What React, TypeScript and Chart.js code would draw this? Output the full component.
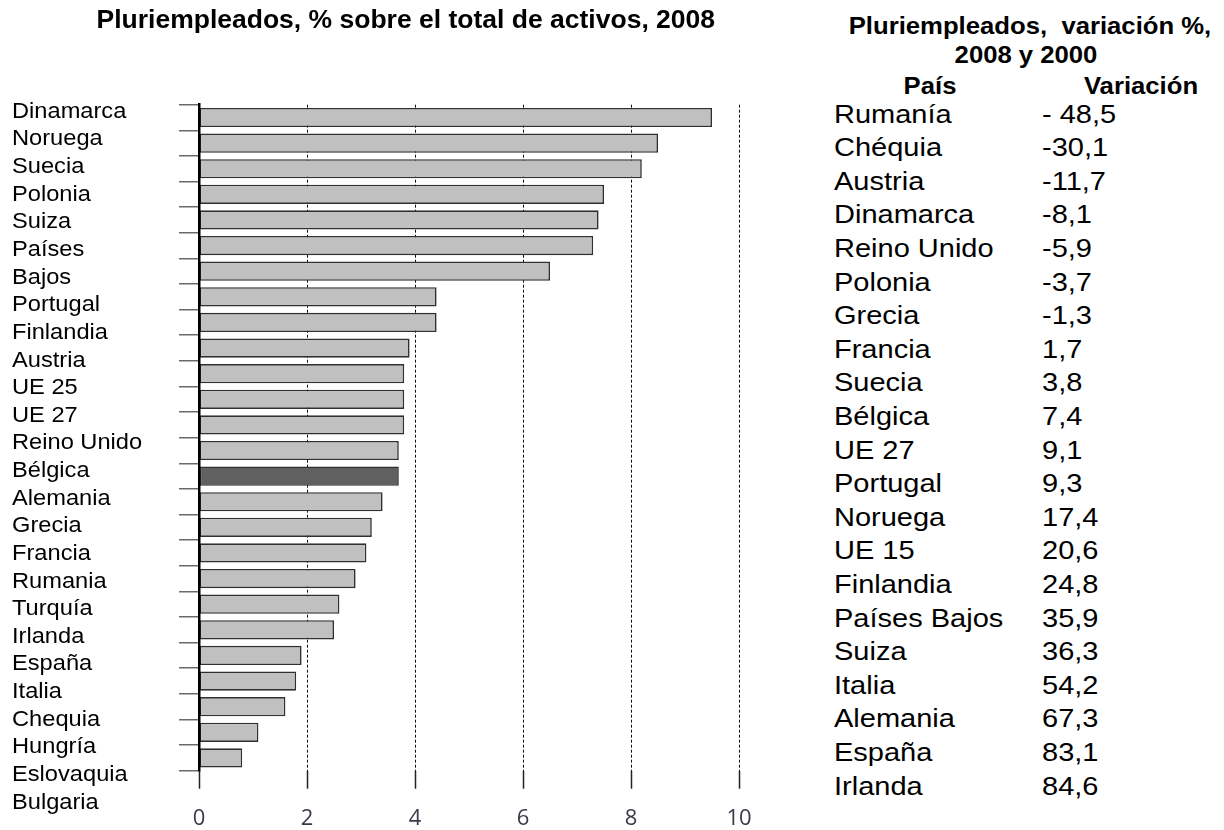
import React, { useEffect, useRef } from "react";
import { Chart, registerables } from "chart.js";

Chart.register(...registerables);

// ---- Data ----
const categories: string[] = [
  "Dinamarca", "Noruega", "Suecia", "Polonia", "Suiza", "Países", "Bajos",
  "Portugal", "Finlandia", "Austria", "UE 25", "UE 27", "Reino Unido", "Bélgica",
  "Alemania", "Grecia", "Francia", "Rumania", "Turquía", "Irlanda", "España",
  "Italia", "Chequia", "Hungría", "Eslovaquia", "Bulgaria",
];
const shares2008: number[] = [
  9.5, 8.5, 8.2, 7.5, 7.4, 7.3, 6.5, 4.4, 4.4, 3.9, 3.8, 3.8, 3.8, 3.7,
  3.7, 3.4, 3.2, 3.1, 2.9, 2.6, 2.5, 1.9, 1.8, 1.6, 1.1, 0.8,
];
const highlightedBar = 14;
const xTickValues: number[] = [0, 2, 4, 6, 8, 10];

const tableCountries: string[] = [
  "Rumanía", "Chéquia", "Austria", "Dinamarca", "Reino Unido", "Polonia", "Grecia",
  "Francia", "Suecia", "Bélgica", "UE 27", "Portugal", "Noruega", "UE 15",
  "Finlandia", "Países Bajos", "Suiza", "Italia", "Alemania", "España", "Irlanda",
];
const tableValues: string[] = [
  "- 48,5", "-30,1", "-11,7", "-8,1", "-5,9", "-3,7", "-1,3", "1,7", "3,8", "7,4",
  "9,1", "9,3", "17,4", "20,6", "24,8", "35,9", "36,3", "54,2", "67,3", "83,1", "84,6",
];

const leftTitle = "Pluriempleados, % sobre el total de activos, 2008";
const rightTitle1 = "Pluriempleados,  variación %,";
const rightTitle2 = "2008 y 2000";
const headerCountry = "País";
const headerValue = "Variación";

const FONT = '"Liberation Sans", Arial, Helvetica, sans-serif';

type TextProps = {
  x: number;
  baseline: number;
  size: number;
  bold?: boolean;
  sx?: number;
  align?: "left" | "center";
  children: React.ReactNode;
};

function Text({ x, baseline, size, bold, sx = 1, align = "left", children }: TextProps) {
  const style: React.CSSProperties = {
    position: "absolute",
    left: x,
    top: baseline - 0.905 * size,
    fontFamily: FONT,
    fontSize: size,
    fontWeight: bold ? 700 : 400,
    lineHeight: `${1.117 * size}px`,
    whiteSpace: "pre",
    color: "#000",
    transformOrigin: "0 0",
    transform: align === "center" ? `scaleX(${sx}) translateX(-50%)` : `scaleX(${sx})`,
  };
  return <div style={style}>{children}</div>;
}

function BarChart() {
  const ref = useRef<HTMLCanvasElement | null>(null);
  useEffect(() => {
    if (!ref.current) return;
    const chart = new Chart(ref.current, {
      type: "bar",
      data: {
        labels: categories,
        datasets: [
          {
            data: shares2008,
            backgroundColor: shares2008.map((_, i) => (i === highlightedBar ? "#606060" : "#c0c0c0")),
            borderColor: "#303030",
            borderWidth: 1.6,
            borderSkipped: false,
            barPercentage: 0.75,
            categoryPercentage: 1,
          },
        ],
      },
      options: {
        indexAxis: "y",
        responsive: false,
        animation: false,
        devicePixelRatio: 1,
        layout: { padding: { left: 179, top: 104.7, right: 27, bottom: 0 } },
        plugins: { legend: { display: false }, tooltip: { enabled: false }, title: { display: false } },
        scales: {
          x: {
            type: "linear",
            position: "bottom",
            min: 0,
            max: 10,
            afterBuildTicks: (axis: any) => {
              axis.ticks = xTickValues.map((v) => ({ value: v }));
            },
            afterFit: (axis: any) => {
              axis.paddingLeft = 0;
              axis.paddingRight = 0;
              axis.height = 59.3;
            },
            ticks: {
              font: { family: '"Open Sans", sans-serif', size: 22 },
              color: "#3a3a46",
              padding: 17,
              callback: (v: any) => String(v),
            },
            grid: {
              display: true,
              drawOnChartArea: true,
              drawTicks: true,
              tickLength: 18,
              color: "#111",
              lineWidth: 1,
              tickColor: "#222",
              tickWidth: 1.5,
              tickBorderDash: [],
            },
            border: { display: false, dash: [3, 2] },
          },
          y: {
            type: "category",
            offset: true,
            ticks: { display: false },
            afterFit: (axis: any) => {
              axis.paddingTop = 0;
              axis.paddingBottom = 0;
              axis.width = 20;
            },
            grid: {
              display: true,
              offset: true,
              drawOnChartArea: false,
              drawTicks: true,
              tickLength: 20,
              color: "#6a6a6a",
              lineWidth: 1.5,
            },
            border: { display: true, color: "#000", width: 2.5, z: 1 },
          },
        },
      } as any,
    });
    return () => chart.destroy();
  }, []);
  return (
    <canvas
      ref={ref}
      width={766}
      height={830}
      style={{ position: "absolute", left: 0, top: 0, width: 766, height: 830, display: "block" }}
    />
  );
}

export default function App() {
  return (
    <div
      style={{
        position: "absolute",
        left: 0,
        top: 0,
        width: 1224,
        height: 830,
        background: "#fff",
        overflow: "hidden",
      }}
    >
      <BarChart />
      <Text x={96.5} baseline={29.3} size={26.5} bold>
        {leftTitle}
      </Text>
      {categories.map((c, i) => (
        <Text key={c + i} x={11.5} baseline={118.3 + i * 27.63} size={21.5} sx={1.1}>
          {c}
        </Text>
      ))}
      <Text x={1030} baseline={34.3} size={24} sx={1.07} bold align="center">
        {rightTitle1}
      </Text>
      <Text x={1026} baseline={63.5} size={24} sx={1.07} bold align="center">
        {rightTitle2}
      </Text>
      <Text x={930} baseline={95} size={24} sx={1.07} bold align="center">
        {headerCountry}
      </Text>
      <Text x={1141} baseline={95} size={24} sx={1.07} bold align="center">
        {headerValue}
      </Text>
      {tableCountries.map((c, i) => (
        <Text key={c} x={834} baseline={123.3 + i * 33.6} size={25} sx={1.16}>
          {c}
        </Text>
      ))}
      {tableValues.map((v, i) => (
        <Text key={"v" + i} x={1042} baseline={123.3 + i * 33.6} size={25} sx={1.16}>
          {v}
        </Text>
      ))}
    </div>
  );
}
